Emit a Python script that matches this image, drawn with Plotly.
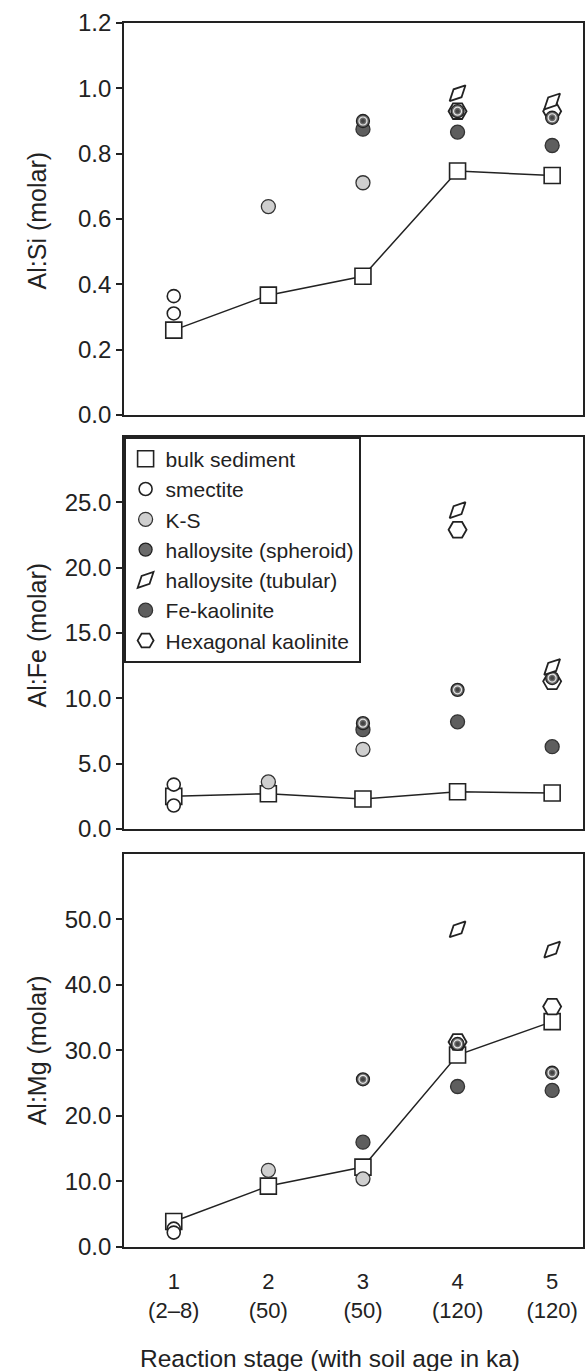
import plotly.graph_objects as go

# ---------------- data ----------------
stages = [1, 2, 3, 4, 5]
stage_labels = ["1<br>(2–8)", "2<br>(50)", "3<br>(50)", "4<br>(120)", "5<br>(120)"]

# Al:Si
si_bulk = [0.26, 0.367, 0.425, 0.747, 0.733]
si_smectite_x = [1, 1]
si_smectite = [0.364, 0.311]
si_ks_x = [2, 3]
si_ks = [0.638, 0.711]
si_sph_x = [3, 4, 5]
si_sph = [0.90, 0.93, 0.91]
si_tub_x = [4, 5]
si_tub = [0.985, 0.96]
si_fek_x = [3, 4, 5]
si_fek = [0.875, 0.866, 0.825]
si_hex_x = [4, 5]
si_hex = [0.93, 0.93]

# Al:Fe
fe_bulk = [2.5, 2.7, 2.3, 2.85, 2.75]
fe_smectite_x = [1, 1]
fe_smectite = [3.4, 1.8]
fe_ks_x = [2, 3]
fe_ks = [3.6, 6.1]
fe_sph_x = [3, 4, 5]
fe_sph = [8.1, 10.65, 11.55]
fe_tub_x = [4, 5]
fe_tub = [24.4, 12.4]
fe_fek_x = [3, 4, 5]
fe_fek = [7.6, 8.2, 6.3]
fe_hex_x = [4, 5]
fe_hex = [22.9, 11.3]

# Al:Mg
mg_bulk = [3.9, 9.3, 12.2, 29.3, 34.4]
mg_smectite_x = [1, 1]
mg_smectite = [2.8, 2.2]
mg_ks_x = [2, 3]
mg_ks = [11.7, 10.4]
mg_sph_x = [3, 4, 5]
mg_sph = [25.6, 31.0, 26.6]
mg_tub_x = [4, 5]
mg_tub = [48.5, 45.4]
mg_fek_x = [3, 4, 5]
mg_fek = [16.0, 24.5, 23.9]
mg_hex_x = [4, 5]
mg_hex = [31.3, 36.7]

INK = "#222222"
FONT = "Liberation Sans, Arial, sans-serif"

fig = go.Figure()

panels = [
    ("y", si_bulk, si_smectite_x, si_smectite, si_ks_x, si_ks, si_sph_x, si_sph,
     si_tub_x, si_tub, si_fek_x, si_fek, si_hex_x, si_hex),
    ("y2", fe_bulk, fe_smectite_x, fe_smectite, fe_ks_x, fe_ks, fe_sph_x, fe_sph,
     fe_tub_x, fe_tub, fe_fek_x, fe_fek, fe_hex_x, fe_hex),
    ("y3", mg_bulk, mg_smectite_x, mg_smectite, mg_ks_x, mg_ks, mg_sph_x, mg_sph,
     mg_tub_x, mg_tub, mg_fek_x, mg_fek, mg_hex_x, mg_hex),
]

for i, (ya, bulk, smx, sm, ksx, ks, sphx, sph, tubx, tub, fekx, fek, hexx, hexv) in enumerate(panels):
    xa = "x" if i == 0 else ("x2" if i == 1 else "x3")
    first = i == 0
    # connecting line for bulk sediment
    fig.add_trace(go.Scatter(x=stages, y=bulk, mode="lines", xaxis=xa, yaxis=ya,
                             line=dict(color=INK, width=1.5), showlegend=False,
                             hoverinfo="skip"))
    fig.add_trace(go.Scatter(x=stages, y=bulk, mode="markers", xaxis=xa, yaxis=ya,
                             name="bulk sediment", legendgroup="bulk", legendrank=1,
                             showlegend=first,
                             marker=dict(symbol="square", size=16, color="white",
                                         line=dict(color=INK, width=1.6))))
    fig.add_trace(go.Scatter(x=smx, y=sm, mode="markers", xaxis=xa, yaxis=ya,
                             name="smectite", legendgroup="sm", legendrank=2,
                             showlegend=first,
                             marker=dict(symbol="circle", size=13, color="white",
                                         line=dict(color=INK, width=1.6))))
    fig.add_trace(go.Scatter(x=ksx, y=ks, mode="markers", xaxis=xa, yaxis=ya,
                             name="K-S", legendgroup="ks", legendrank=3,
                             showlegend=first,
                             marker=dict(symbol="circle", size=14, color="#cfcfcf",
                                         line=dict(color="#333333", width=1.3))))
    fig.add_trace(go.Scatter(x=hexx, y=hexv, mode="markers", xaxis=xa, yaxis=ya,
                             name="Hexagonal kaolinite", legendgroup="hex", legendrank=7,
                             showlegend=first,
                             marker=dict(symbol="hexagon2", size=18, color="white",
                                         line=dict(color=INK, width=1.8))))
    fig.add_trace(go.Scatter(x=fekx, y=fek, mode="markers", xaxis=xa, yaxis=ya,
                             name="Fe-kaolinite", legendgroup="fek", legendrank=6,
                             showlegend=first,
                             marker=dict(symbol="circle", size=14, color="#5e5e5e",
                                         line=dict(color="#333333", width=1.3))))
    fig.add_trace(go.Scatter(x=sphx, y=sph, mode="markers", xaxis=xa, yaxis=ya,
                             name="halloysite (spheroid)", legendgroup="sph", legendrank=4,
                             showlegend=first,
                             marker=dict(symbol="circle", size=13, color="#6a6a6a",
                                         line=dict(color="#222222", width=1.3))))
    fig.add_trace(go.Scatter(x=sphx, y=sph, mode="markers", xaxis=xa, yaxis=ya,
                             legendgroup="sph", showlegend=False, hoverinfo="skip",
                             marker=dict(symbol="circle-open", size=8, color="#e6e6e6",
                                         line=dict(color="#e6e6e6", width=1.2))))
    fig.add_trace(go.Scatter(x=sphx, y=sph, mode="markers", xaxis=xa, yaxis=ya,
                             legendgroup="sph", showlegend=False, hoverinfo="skip",
                             marker=dict(symbol="circle", size=4, color="#444444",
                                         line=dict(width=0))))
    fig.add_trace(go.Scatter(x=tubx, y=tub, mode="markers", xaxis=xa, yaxis=ya,
                             name="halloysite (tubular)", legendgroup="tub", legendrank=5,
                             showlegend=first,
                             marker=dict(symbol="diamond-tall", size=16, angle=45,
                                         color="white", line=dict(color=INK, width=1.8))))

xcommon = dict(range=[0.474, 5.326], showline=True, mirror=True, linecolor=INK,
               linewidth=1.6, showgrid=False, zeroline=False, ticks="",
               tickmode="array", tickvals=stages, ticktext=stage_labels,
               tickfont=dict(family=FONT, size=22, color=INK))
ycommon = dict(showline=True, mirror=True, linecolor=INK, linewidth=1.6,
               showgrid=False, zeroline=False, ticks="outside", ticklen=6,
               tickwidth=1.5, tickcolor=INK, tickformat=".1f",
               tickfont=dict(family=FONT, size=24, color=INK))

fig.update_layout(
    width=587, height=1371,
    margin=dict(l=124, r=2, t=23, b=124),
    paper_bgcolor="white", plot_bgcolor="white",
    font=dict(family=FONT, color=INK),
    xaxis=dict(**xcommon, anchor="y", showticklabels=False),
    xaxis2=dict(**xcommon, anchor="y2", showticklabels=False),
    xaxis3=dict(**xcommon, anchor="y3", ticklabelstandoff=14),
    yaxis=dict(**ycommon, domain=[0.6797, 1.0], range=[0, 1.2],
               tickvals=[0, 0.2, 0.4, 0.6, 0.8, 1.0, 1.2], anchor="x"),
    yaxis2=dict(**ycommon, domain=[0.3415, 0.6618], range=[0, 30],
                tickvals=[0, 5, 10, 15, 20, 25], anchor="x2"),
    yaxis3=dict(**ycommon, domain=[0.0, 0.3211], range=[0, 60],
                tickvals=[0, 10, 20, 30, 40, 50], anchor="x3"),
    legend=dict(x=0, y=0.6618, xanchor="left", yanchor="top",
                bgcolor="white", bordercolor=INK, borderwidth=1.6,
                font=dict(family=FONT, size=21, color=INK),
                tracegroupgap=0, itemwidth=30),
    showlegend=True,
)

ann_font = dict(family=FONT, size=25, color=INK)
fig.add_annotation(text="Al:Si (molar)", xref="paper", yref="paper", x=-0.1887, y=0.839,
                   textangle=-90, showarrow=False, font=ann_font,
                   xanchor="center", yanchor="middle")
fig.add_annotation(text="Al:Fe (molar)", xref="paper", yref="paper", x=-0.1887, y=0.5,
                   textangle=-90, showarrow=False, font=ann_font,
                   xanchor="center", yanchor="middle")
fig.add_annotation(text="Al:Mg (molar)", xref="paper", yref="paper", x=-0.1887, y=0.161,
                   textangle=-90, showarrow=False, font=ann_font,
                   xanchor="center", yanchor="middle")
fig.add_annotation(text="Reaction stage (with soil age in ka)", xref="paper", yref="paper",
                   x=0.449, y=-0.0907, showarrow=False,
                   font=dict(family=FONT, size=24.5, color=INK),
                   xanchor="center", yanchor="middle")

fig.write_html("out.html",
               config={"displayModeBar": False},
               post_script="document.body.style.margin='0';"
                           "document.body.style.overflow='hidden';")
